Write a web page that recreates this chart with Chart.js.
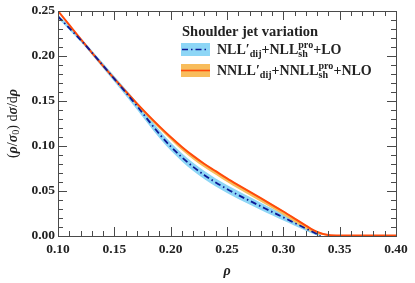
<!DOCTYPE html>
<html>
<head>
<meta charset="utf-8">
<script src="https://cdn.jsdelivr.net/npm/chart.js@4.4.1/dist/chart.umd.min.js"></script>
<style>
  html, body { margin: 0; padding: 0; background: #fff; }
  #wrap { width: 415px; height: 283px; position: relative; }
</style>
</head>
<body>
<div id="wrap"><canvas id="chart4wrapper"></canvas></div>
<script>
// rho grid for each curve
var rhoNll = [0.10, 0.11, 0.12, 0.13, 0.14, 0.15, 0.16, 0.17, 0.18, 0.19, 0.20, 0.21, 0.22, 0.23, 0.24, 0.25, 0.26, 0.27, 0.28, 0.29, 0.30, 0.31, 0.32, 0.33, 0.333];
var rhoNnll = [0.10, 0.11, 0.12, 0.13, 0.14, 0.15, 0.16, 0.17, 0.18, 0.19, 0.20, 0.21, 0.22, 0.23, 0.24, 0.25, 0.26, 0.27, 0.28, 0.29, 0.30, 0.31, 0.32, 0.33, 0.34, 0.35, 0.36, 0.37, 0.38, 0.39, 0.40];

// NLL'_dij + NLL^pro_sh + LO  (central, band low, band high)
var nllCentral = [0.2440, 0.2310, 0.2180, 0.2040, 0.1893, 0.1745, 0.1597, 0.1446, 0.1288, 0.1133, 0.0995, 0.0874, 0.0768, 0.0676, 0.0595, 0.0522, 0.0455, 0.0392, 0.0330, 0.0268, 0.0207, 0.0145, 0.0083, 0.0020, 0.0];
var nllLow = [0.2420, 0.2290, 0.2158, 0.2015, 0.1865, 0.1713, 0.1561, 0.1406, 0.1245, 0.1088, 0.0950, 0.0829, 0.0723, 0.0631, 0.0550, 0.0477, 0.0410, 0.0349, 0.0290, 0.0230, 0.0172, 0.0115, 0.0058, 0.0005, 0.0];
var nllHigh = [0.2460, 0.2330, 0.2202, 0.2065, 0.1921, 0.1777, 0.1633, 0.1486, 0.1331, 0.1178, 0.1040, 0.0919, 0.0813, 0.0721, 0.0640, 0.0567, 0.0500, 0.0435, 0.0370, 0.0306, 0.0242, 0.0175, 0.0108, 0.0035, 0.0010];

// NNLL'_dij + NNLL^pro_sh + NLO
var nnllCentral = [0.2500, 0.2345, 0.2190, 0.2038, 0.1891, 0.1748, 0.1609, 0.1474, 0.1343, 0.1218, 0.1100, 0.0990, 0.0890, 0.0800, 0.0720, 0.0640, 0.0565, 0.0492, 0.0420, 0.0347, 0.0272, 0.0194, 0.0115, 0.0045, 0.0010, 0.0005, 0.0005, 0.0005, 0.0005, 0.0005, 0.0005];
var nnllLow = [0.2495, 0.2338, 0.2182, 0.2028, 0.1879, 0.1733, 0.1589, 0.1451, 0.1318, 0.1190, 0.1070, 0.0952, 0.0851, 0.0761, 0.0681, 0.0600, 0.0525, 0.0452, 0.0380, 0.0307, 0.0232, 0.0154, 0.0077, 0.0022, 0.0006, 0.0002, 0.0002, 0.0002, 0.0002, 0.0002, 0.0002];
var nnllHigh = [0.2505, 0.2353, 0.2198, 0.2046, 0.1899, 0.1756, 0.1617, 0.1482, 0.1351, 0.1226, 0.1108, 0.0998, 0.0898, 0.0808, 0.0728, 0.0648, 0.0573, 0.0500, 0.0428, 0.0355, 0.0280, 0.0202, 0.0123, 0.0053, 0.0016, 0.0008, 0.0008, 0.0008, 0.0008, 0.0008, 0.0008];

var xTicks = [0.10, 0.15, 0.20, 0.25, 0.30, 0.35, 0.40];
var yTicks = [0.00, 0.05, 0.10, 0.15, 0.20, 0.25];
var legendTitle = 'Shoulder jet variation';

var blueLine = '#0c1896';
var blueBand = '#8dd6f6';
var redLine = '#ff4a0a';
var orangeBand = '#f8bd5c';
var axisColor = '#4a4a4a';
var textColor = '#222';
var serif = '"Liberation Serif", "DejaVu Serif", serif';

function pts(xs, ys) {
  return xs.map(function(x, i) { return { x: x, y: ys[i] }; });
}

// draws a row of text pieces: [text, style, shift, stackUnderPrevious]
// style: 'i' italic, 'r' regular weight (default bold), 's' small
function drawPieces(ctx, pieces, x, y, size) {
  var cx = x;
  var lastW = 0;
  pieces.forEach(function(p) {
    var txt = p[0], st = p[1], dy = p[2] || 0, back = p[3] || false;
    var fs = st.indexOf('s') >= 0 ? size * 0.72 : size;
    var it = st.indexOf('i') >= 0 ? 'italic ' : '';
    var bw = st.indexOf('r') >= 0 ? 'normal ' : 'bold ';
    ctx.font = it + bw + fs + 'px ' + serif;
    var w = ctx.measureText(txt).width;
    if (back) {
      cx -= lastW;
      w = Math.max(w, lastW);
    }
    ctx.fillText(txt, cx, y + dy);
    cx += w;
    lastW = w;
  });
  return cx;
}

var framePlugin = {
  id: 'frame',
  afterDraw: function(chart) {
    var ctx = chart.ctx;
    var xs = chart.scales.x, ys = chart.scales.y;
    var a = chart.chartArea;
    ctx.save();
    ctx.strokeStyle = axisColor;
    ctx.lineWidth = 1;
    ctx.strokeRect(Math.round(a.left) + 0.5, Math.round(a.top) + 0.5, Math.round(a.right - a.left), Math.round(a.bottom - a.top));

    // inward ticks, minor every 0.01, major every 0.05
    ctx.beginPath();
    for (var k = 10; k <= 40; k++) {
      var px = Math.round(xs.getPixelForValue(k / 100)) + 0.5;
      var len = (k % 5 === 0) ? 9 : 5;
      ctx.moveTo(px, a.bottom); ctx.lineTo(px, a.bottom - len);
      ctx.moveTo(px, a.top); ctx.lineTo(px, a.top + len);
    }
    for (var j = 0; j <= 25; j++) {
      var py = Math.round(ys.getPixelForValue(j / 100)) + 0.5;
      var ln = (j % 5 === 0) ? 9 : 5;
      ctx.moveTo(a.left, py); ctx.lineTo(a.left + ln, py);
      ctx.moveTo(a.right, py); ctx.lineTo(a.right - ln, py);
    }
    ctx.stroke();

    // tick labels
    ctx.fillStyle = textColor;
    ctx.font = 'bold 13.5px ' + serif;
    ctx.textAlign = 'center';
    ctx.textBaseline = 'middle';
    xTicks.forEach(function(v) {
      ctx.fillText(v.toFixed(2), xs.getPixelForValue(v), a.bottom + 14);
    });
    ctx.textAlign = 'right';
    yTicks.forEach(function(v) {
      ctx.fillText(v.toFixed(2), a.left - 3, ys.getPixelForValue(v));
    });

    // x title
    ctx.textAlign = 'center';
    ctx.font = 'italic bold 14px ' + serif;
    ctx.fillText('\u03c1', (a.left + a.right) / 2, a.bottom + 35);

    // y title, rotated
    ctx.save();
    ctx.translate(13, (a.top + a.bottom) / 2);
    ctx.rotate(-Math.PI / 2);
    ctx.textAlign = 'left';
    ctx.textBaseline = 'middle';
    var yPieces = [['(', 'r'], ['\u03c1', 'i'], ['/', 'r'], ['\u03c3', 'i'], ['0', 'rs', 3], [')', 'r'], [' d', 'r'], ['\u03c3', 'i'], ['/', 'r'], ['d', 'r'], ['\u03c1', 'i']];
    ctx.globalAlpha = 0;
    var wTot = drawPieces(ctx, yPieces, 0, 0, 14);
    ctx.globalAlpha = 1;
    drawPieces(ctx, yPieces, -wTot / 2, 0, 14);
    ctx.restore();

    // legend
    ctx.textAlign = 'left';
    ctx.textBaseline = 'middle';
    ctx.font = 'bold 14.5px ' + serif;
    ctx.fillText(legendTitle, 182, 32);

    ctx.fillStyle = blueBand;
    ctx.fillRect(181, 43, 29, 13);
    ctx.strokeStyle = blueLine;
    ctx.lineWidth = 1.6;
    ctx.setLineDash([6, 3, 1.5, 3]);
    ctx.beginPath(); ctx.moveTo(182, 49.5); ctx.lineTo(209, 49.5); ctx.stroke();
    ctx.setLineDash([]);

    ctx.fillStyle = orangeBand;
    ctx.fillRect(181, 64, 29, 13);
    ctx.strokeStyle = redLine;
    ctx.beginPath(); ctx.moveTo(181, 70.5); ctx.lineTo(210, 70.5); ctx.stroke();

    ctx.fillStyle = textColor;
    drawPieces(ctx, [['NLL\u2032', 'n'], ['dij', 's', 4], ['+NLL', 'n'], ['pro', 's', -5], ['sh', 's', 4, true], ['+LO', 'n']], 217, 50, 14);
    drawPieces(ctx, [['NNLL\u2032', 'n'], ['dij', 's', 4], ['+NNLL', 'n'], ['pro', 's', -5], ['sh', 's', 4, true], ['+NLO', 'n']], 217, 71, 14);
    ctx.restore();
  }
};

document.addEventListener('DOMContentLoaded', function() {
  var common = { pointRadius: 0, cubicInterpolationMode: 'monotone' };
  new Chart('chart4wrapper', {
    type: 'line',
    data: {
      datasets: [
        Object.assign({ label: 'NLL central', data: pts(rhoNll, nllCentral), borderColor: blueLine, borderWidth: 1.8, borderDash: [6, 3, 1.5, 3], fill: false, order: 0 }, common),
        Object.assign({ label: 'NNLL central', data: pts(rhoNnll, nnllCentral), borderColor: redLine, borderWidth: 2, fill: false, order: 1 }, common),
        Object.assign({ label: 'NNLL high', data: pts(rhoNnll, nnllHigh), borderWidth: 0, borderColor: 'transparent', fill: false, order: 2 }, common),
        Object.assign({ label: 'NNLL low', data: pts(rhoNnll, nnllLow), borderWidth: 0, borderColor: 'transparent', backgroundColor: orangeBand, fill: '-1', order: 2 }, common),
        Object.assign({ label: 'NLL high', data: pts(rhoNll, nllHigh), borderWidth: 0, borderColor: 'transparent', fill: false, order: 3 }, common),
        Object.assign({ label: 'NLL low', data: pts(rhoNll, nllLow), borderWidth: 0, borderColor: 'transparent', backgroundColor: blueBand, fill: '-1', order: 3 }, common)
      ]
    },
    options: {
      responsive: true,
      maintainAspectRatio: false,
      animation: false,
      layout: { padding: { left: 58, right: 19, top: 11, bottom: 47 } },
      plugins: { legend: { display: false }, tooltip: { enabled: false } },
      scales: {
        x: { type: 'linear', min: 0.10, max: 0.40, display: false },
        y: { type: 'linear', min: 0.00, max: 0.25, display: false }
      }
    },
    plugins: [framePlugin]
  });
});
</script>
</body>
</html>
